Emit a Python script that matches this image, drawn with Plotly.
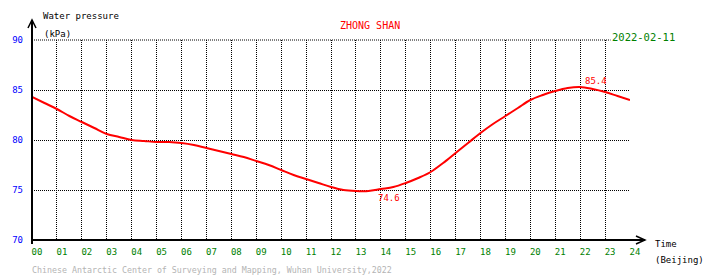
import plotly.graph_objects as go

# ---- data ----
hours = [0, 0.5, 1, 1.5, 2, 2.5, 3, 3.5, 4, 4.5, 5, 5.5, 6, 6.5, 7, 7.5, 8, 8.5,
         9, 9.5, 10, 10.5, 11, 11.5, 12, 12.5, 13, 13.5, 14, 14.5, 15, 15.5, 16,
         16.5, 17, 17.5, 18, 18.5, 19, 19.5, 20, 20.5, 21, 21.5, 22, 22.5, 23, 23.5, 24]
pressure = [84.3, 83.7, 83.1, 82.4, 81.8, 81.2, 80.6, 80.3, 80.0, 79.9, 79.8, 79.8,
            79.7, 79.5, 79.2, 78.9, 78.6, 78.3, 77.9, 77.5, 77.0, 76.5, 76.1, 75.7,
            75.3, 75.0, 74.9, 74.9, 75.1, 75.3, 75.7, 76.2, 76.8, 77.7, 78.7, 79.7,
            80.7, 81.6, 82.4, 83.2, 84.0, 84.5, 84.9, 85.2, 85.3, 85.1, 84.8, 84.4, 84.0]
min_time, min_value = 13.8, 74.6
max_time, max_value = 22.1, 85.4
x_ticks = list(range(0, 25))
x_tick_text = ["%02d" % h for h in x_ticks]
y_ticks = [70, 75, 80, 85, 90]
y_tick_text = ["70", "75", "80", "85", "90"]
station = "ZHONG SHAN"
date_text = "2022-02-11"

MONO = "DejaVu Sans Mono"

fig = go.Figure()
fig.add_trace(go.Scatter(x=hours, y=pressure, mode="lines",
                         line=dict(color="#ff0000", width=2, shape="spline"),
                         hoverinfo="skip", showlegend=False))

fig.update_layout(
    width=710, height=278,
    margin=dict(l=30, r=80, t=40, b=38),
    paper_bgcolor="white", plot_bgcolor="white",
    showlegend=False,
    xaxis=dict(range=[0, 24], tickvals=x_ticks, ticktext=x_tick_text,
               showgrid=True, gridcolor="black", gridwidth=1, griddash="1px,1px",
               zeroline=False, showline=False, ticks="",
               tickfont=dict(family=MONO, size=9, color="#008000"),
               ticklabelshift=5, ticklabelstandoff=5, fixedrange=True),
    yaxis=dict(range=[70, 90], tickvals=y_ticks, ticktext=y_tick_text,
               showgrid=True, gridcolor="black", gridwidth=1, griddash="1px,1px",
               zeroline=False, showline=False, ticks="",
               tickfont=dict(family=MONO, size=9, color="#0000ff"),
               ticklabelstandoff=8, fixedrange=True),
)

# top border gridline (dotted, like the other gridlines)
fig.add_shape(type="line", xref="paper", yref="paper", x0=0, y0=1, x1=1, y1=1,
              line=dict(color="black", width=1, dash="1px,1px"), layer="below")

# axes with arrows (paper coords: x 0..1 -> 30..630 px, y 0..1 -> 240..40 px)
ax_line = dict(color="black", width=2)
fig.add_shape(type="line", xref="paper", yref="paper", x0=0, y0=-0.02, x1=0, y1=1.1, line=ax_line)
fig.add_shape(type="line", xref="paper", yref="paper", x0=0, y0=0, x1=1.025, y1=0, line=ax_line)
fig.add_shape(type="path", xref="paper", yref="paper",
              path="M -0.0067,1.06 L 0,1.1 L 0.0067,1.06", line=dict(color="black", width=1.5))
fig.add_shape(type="path", xref="paper", yref="paper",
              path="M 1.01,0.02 L 1.025,0 L 1.01,-0.02", line=dict(color="black", width=1.5))

def txt(x, y, s, color="black", size=9, xanchor="left", **kw):
    fig.add_annotation(x=x, y=y, xref="paper", yref="paper", text=s, showarrow=False,
                       xanchor=xanchor, yanchor="middle",
                       font=dict(family=MONO, size=size, color=color), **kw)

txt(0.015, 1.12, "Water pressure")
txt(0.017, 1.03, "(kPa)")
txt(0.565, 1.075, station, color="#ff0000", size=10, xanchor="center")
txt(0.966, 1.015, date_text, color="#008000", size=10.5, bgcolor="white")
txt(1.038, -0.02, "Time")
txt(1.038, -0.10, "(Beijing)")
txt(-0.003, -0.15, "Chinese Antarctic Center of Surveying and Mapping, Wuhan University,2022",
    color="#b4b4b4", size=8.3)

# extreme value labels
fig.add_annotation(x=min_time, y=min_value, text="%.1f" % min_value, showarrow=False,
                   xanchor="left", yanchor="middle", yshift=-4,
                   font=dict(family=MONO, size=9, color="#ff0000"))
fig.add_annotation(x=max_time, y=max_value, text="%.1f" % max_value, showarrow=False,
                   xanchor="left", yanchor="middle", yshift=5,
                   font=dict(family=MONO, size=9, color="#ff0000"))

fig.write_html("out.html", config={"displayModeBar": False})
